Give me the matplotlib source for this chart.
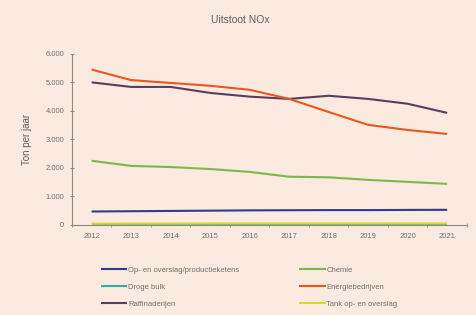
import matplotlib
matplotlib.use('Agg')
import matplotlib.pyplot as plt
from matplotlib import ticker

plt.rcParams['font.family'] = ['Liberation Sans', 'DejaVu Sans']

years = ['2012', '2013', '2014', '2015', '2016', '2017', '2018', '2019', '2020', '2021']

overslag = [470, 480, 490, 500, 510, 515, 520, 520, 525, 530]
droge_bulk = [15, 15, 15, 15, 15, 15, 15, 15, 15, 15]
raffinaderijen = [5000, 4840, 4840, 4630, 4500, 4420, 4530, 4420, 4250, 3930]
chemie = [2250, 2070, 2030, 1960, 1860, 1690, 1670, 1580, 1510, 1440]
energie = [5450, 5080, 4980, 4880, 4740, 4420, 3960, 3510, 3330, 3190]
tank = [40, 45, 45, 50, 50, 50, 50, 50, 50, 50]

series = [
    ('Op- en overslag/productieketens', overslag, '#2b3d8c'),
    ('Droge bulk', droge_bulk, '#2bb3a3'),
    ('Raffinaderijen', raffinaderijen, '#5a3e62'),
    ('Chemie', chemie, '#7cb84a'),
    ('Energiebedrijven', energie, '#e9571f'),
    ('Tank op- en overslag', tank, '#d8d830'),
]

BG = '#fbeadf'
GREY = '#8a8a8a'

fig = plt.figure(figsize=(4.76, 3.15), dpi=100, facecolor=BG)
ax = fig.add_axes([0.151, 0.286, 0.830, 0.543], facecolor=BG)

x = list(range(len(years)))
for label, vals, color in series:
    ax.plot(x, vals, color=color, lw=1.5, label=label, solid_capstyle='butt')

ax.set_xlim(-0.5, len(years) - 0.5)
ax.set_ylim(0, 6000)
ax.set_xticks(x)
ax.set_xticklabels(years)
ax.set_xticks([i + 0.5 for i in range(-1, len(years))], minor=True)
ax.tick_params(axis='x', which='major', length=0, pad=6, labelsize=5.5, colors='#707070')
ax.tick_params(axis='x', which='minor', length=3, direction='inout', color=GREY)
ax.set_yticks(range(0, 6001, 1000))
ax.yaxis.set_major_formatter(ticker.FuncFormatter(lambda v, p: f'{int(v):,}'.replace(',', '.')))
ax.tick_params(axis='y', length=3, direction='inout', labelsize=5.5, colors='#707070', color=GREY, pad=4)

for s in ['top', 'right']:
    ax.spines[s].set_visible(False)
for s in ['left', 'bottom']:
    ax.spines[s].set_color(GREY)
    ax.spines[s].set_linewidth(0.8)

ax.set_ylabel('Ton per jaar', fontsize=7, color='#606060', labelpad=10)
fig.text(0.505, 0.935, 'Uitstoot NOx', ha='center', va='center', fontsize=7.5, color='#606060')

leg = fig.legend(loc='upper left', bbox_to_anchor=(0.205, 0.163), ncol=2, frameon=False,
                 fontsize=5.5, handlelength=3.5, handletextpad=0.1, columnspacing=7.8,
                 labelspacing=1.25, borderaxespad=0)
for t in leg.get_texts():
    t.set_color('#707070')

fig.savefig('out.png', dpi=100, facecolor=BG)
